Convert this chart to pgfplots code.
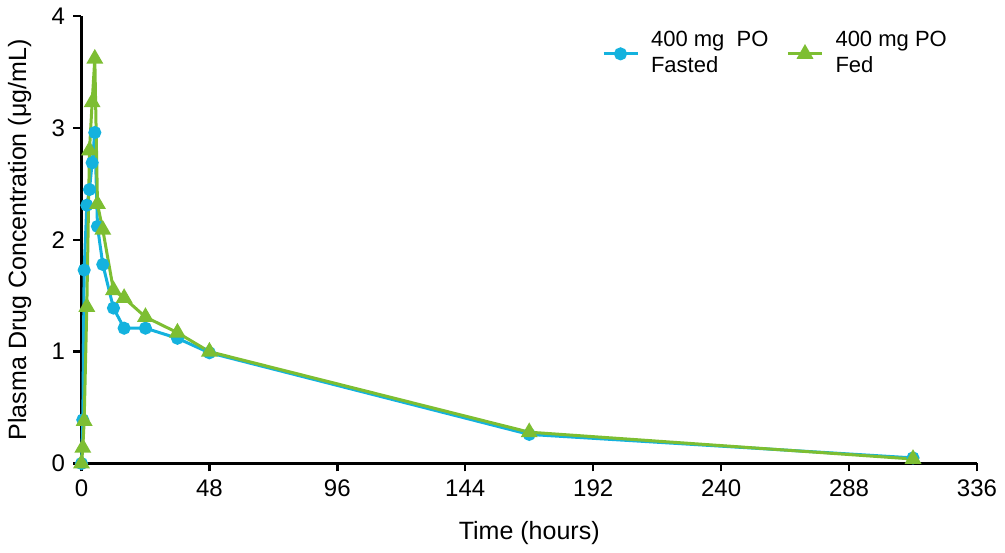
\documentclass[border=0pt]{standalone}
\usepackage{fontspec}
\setmainfont{Liberation Sans}
\usepackage{pgfplots}
\pgfplotsset{compat=1.18}
\definecolor{FastBlue}{RGB}{20,178,222}
\definecolor{FedGreen}{RGB}{125,190,50}

\begin{document}
\fontsize{12}{14}\selectfont
\begin{tikzpicture}
  \begin{axis}[
      scale only axis,
      width=447.5pt, height=223.5pt,
      xmin=0, xmax=336, ymin=0, ymax=4,
      axis lines=left,
      axis line style={line width=1.5pt, -},
      xtick={0,48,...,336},
      ytick={0,1,2,3,4},
      tick style={line width=1.2pt, black},
      tick align=outside,
      major tick length=4pt,
      tick label style={font=\fontsize{12}{14}\selectfont},
      /pgf/number format/assume math mode=true,
      xlabel={Time (hours)},
      ylabel={Plasma Drug Concentration (μg/mL)},
      label style={font=\fontsize{12.5}{14}\selectfont},
      xlabel style={yshift=-4pt},
      ylabel style={yshift=2pt},
      clip=false,
      legend columns=2,
      legend style={at={(0.978,0.985)}, anchor=north east, draw=none, fill=none,
        font=\fontsize{11}{13}\selectfont,
        cells={align=left},
        /tikz/every odd column/.append style={column sep=4pt},
        /tikz/every even column/.append style={column sep=7pt}},
      legend image code/.code={
        \draw[#1, mark repeat=2, mark phase=2] plot coordinates {(0pt,0pt) (8.5pt,0pt) (17pt,0pt)};},
    ]
    \addplot[color=FastBlue, line width=1.5pt, mark=*, mark size=2.5pt,
      mark options={solid, fill=FastBlue}] coordinates {
      (0,0) (0.5,0.39) (1,1.73) (2,2.31) (3,2.45) (4,2.69) (5,2.96)
      (6,2.12) (8,1.78) (12,1.39) (16,1.21) (24,1.21) (36,1.12)
      (48,0.99) (168,0.26) (312,0.05)};
    \addplot[color=FedGreen, line width=1.5pt, mark=triangle*, mark size=3.4pt,
      mark options={solid, fill=FedGreen}] coordinates {
      (0,0) (0.5,0.14) (1,0.38) (2,1.40) (3,2.80) (4,3.23) (5,3.62)
      (6,2.32) (8,2.09) (12,1.55) (16,1.48) (24,1.31) (36,1.17)
      (48,1.00) (168,0.28) (312,0.04)};
    \legend{400 mg\ \ PO\\Fasted, 400 mg PO\\Fed}
  \end{axis}
\end{tikzpicture}
\end{document}
